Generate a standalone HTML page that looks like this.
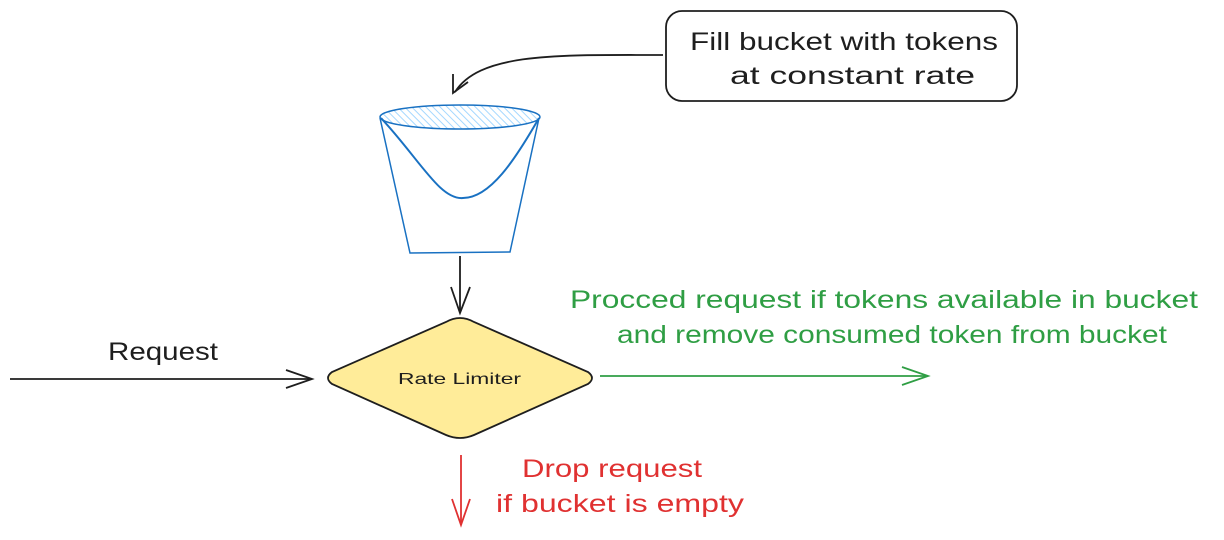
<!DOCTYPE html>
<html><head><meta charset="utf-8"><style>
body{margin:0;background:#fff;width:1224px;height:535px;overflow:hidden}
svg text{font-family:"Comic Sans MS","Liberation Sans",sans-serif}
</style></head><body>
<svg width="1224" height="535" viewBox="0 0 1224 535" xmlns="http://www.w3.org/2000/svg">
<defs>
<pattern id="h" width="5" height="5" patternUnits="userSpaceOnUse" patternTransform="rotate(-45)">
<line x1="0" y1="0" x2="0" y2="5" stroke="#a5d8ff" stroke-width="2"/>
</pattern>
</defs>
<rect x="666" y="11" width="351" height="90" rx="16" fill="#fff" stroke="#1e1e1e" stroke-width="1.8"/>
<text x="690" y="50" font-size="25" textLength="308" lengthAdjust="spacingAndGlyphs" fill="#1e1e1e">Fill bucket with tokens</text>
<text x="730" y="84" font-size="25" textLength="245" lengthAdjust="spacingAndGlyphs" fill="#1e1e1e">at constant rate</text>
<path d="M663 55 C560 55 480 52 455 92" fill="none" stroke="#1e1e1e" stroke-width="1.8"/>
<path d="M453 74 L453 93 L468 82" fill="none" stroke="#1e1e1e" stroke-width="1.8"/>
<path d="M380 118 L410 253 L510 252 L539 118" fill="none" stroke="#1971c2" stroke-width="1.5"/>
<ellipse cx="460" cy="117" rx="80" ry="12" fill="url(#h)" stroke="#1971c2" stroke-width="1.5"/>
<path d="M381 118 C420 160 440 200 463 198 C490 198 515 160 539 118" fill="none" stroke="#1971c2" stroke-width="2"/>
<line x1="460" y1="256" x2="460" y2="313" stroke="#1e1e1e" stroke-width="1.8"/>
<path d="M451 287 L460 313 L470 287" fill="none" stroke="#1e1e1e" stroke-width="1.8"/>
<path d="M460 318 Q467 318 474 322 L588 372 Q596 378 588 384 L474 435 Q460 441 446 435 L332 384 Q324 378 332 372 L446 322 Q453 318 460 318 Z" fill="#ffec99" stroke="#1e1e1e" stroke-width="1.8"/>
<text x="398" y="384" font-size="16" textLength="123" lengthAdjust="spacingAndGlyphs" fill="#1e1e1e">Rate Limiter</text>
<line x1="10" y1="379" x2="312" y2="379" stroke="#1e1e1e" stroke-width="1.8"/>
<path d="M286 370 L312 379 L286 388" fill="none" stroke="#1e1e1e" stroke-width="1.8"/>
<text x="108" y="360" font-size="25" textLength="110" lengthAdjust="spacingAndGlyphs" fill="#1e1e1e">Request</text>
<line x1="600" y1="376" x2="928" y2="376" stroke="#2f9e44" stroke-width="1.8"/>
<path d="M902 367 L928 376 L902 385" fill="none" stroke="#2f9e44" stroke-width="1.8"/>
<text x="570" y="308" font-size="25" textLength="628" lengthAdjust="spacingAndGlyphs" fill="#2f9e44">Procced request if tokens available in bucket</text>
<text x="617" y="343" font-size="25" textLength="550" lengthAdjust="spacingAndGlyphs" fill="#2f9e44">and remove consumed token from bucket</text>
<line x1="461" y1="455" x2="461" y2="525" stroke="#e03131" stroke-width="1.8"/>
<path d="M452 499 L461 525 L470 499" fill="none" stroke="#e03131" stroke-width="1.8"/>
<text x="522" y="477" font-size="25" textLength="180" lengthAdjust="spacingAndGlyphs" fill="#e03131">Drop request</text>
<text x="496" y="512" font-size="25" textLength="248" lengthAdjust="spacingAndGlyphs" fill="#e03131">if bucket is empty</text>
</svg>
</body></html>
